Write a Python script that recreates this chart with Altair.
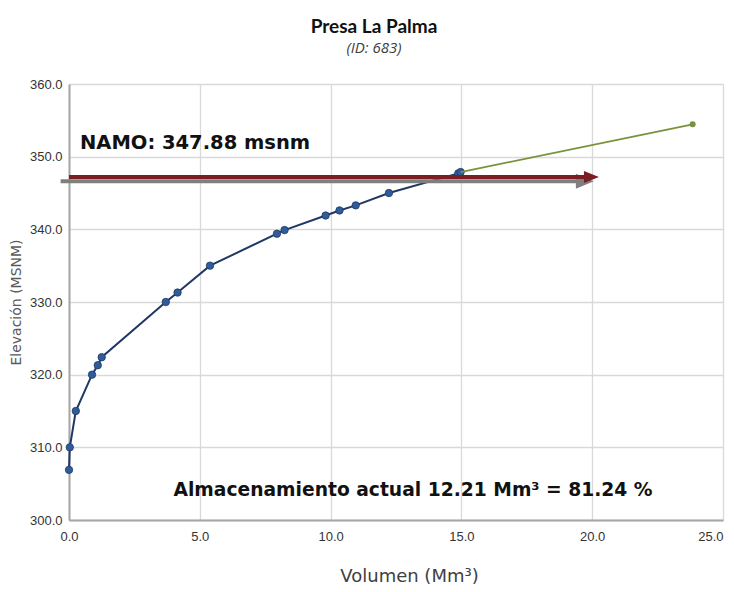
import altair as alt
import pandas as pd

# Curva elevación-volumen (puntos azules)
vol = [0.0, 0.03, 0.26, 0.88, 1.10, 1.25, 3.70, 4.15, 5.39, 7.95, 8.24, 9.81, 10.34, 10.96, 12.23, 14.88, 14.97]
elev = [306.9, 310.0, 315.0, 320.0, 321.3, 322.4, 330.0, 331.3, 335.0, 339.4, 339.9, 341.9, 342.6, 343.3, 345.0, 347.7, 347.88]

# Extensión (verde)
ext_vol = [14.97, 23.84]
ext_elev = [347.88, 354.45]

# Flechas
gray_x = [-0.32, 19.45]
gray_y = [346.6, 346.6]
gray_head_x = [19.72]
gray_head_y = [346.62]
red_x = [0.0, 19.75]
red_y = [347.2, 347.2]
red_head_x = [19.97]
red_head_y = [347.2]

# Textos
namo_text = ["NAMO: 347.88 msnm"]
namo_x = [0.42]
namo_y = [351.05]
alm_text = ["Almacenamiento actual 12.21 Mm³ = 81.24 %"]
alm_x = [13.15]
alm_y = [303.3]

x_ticks = [0, 5, 10, 15, 20, 25]
y_ticks = [300, 310, 320, 330, 340, 350, 360]

xs = alt.Scale(domain=[0, 25], nice=False, zero=False)
ys = alt.Scale(domain=[300, 360], nice=False, zero=False)

X = alt.X("x:Q", scale=xs, axis=alt.Axis(
    values=x_ticks, format=".1f", title="Volumen (Mm³)", grid=True, labelFlush=False,
    labelAlign={"condition": {"test": "datum.value >= 25", "value": "right"}, "value": "center"},
    ticks=False, labelPadding=10, titlePadding=24, titleX=340, titleAlign="center",
    titleFont="DejaVu Sans", titleFontSize=18, titleFontWeight="normal", titleColor="#404040",
    labelFont="Liberation Sans", labelFontSize=13, labelColor="#333333",
    domainColor="#A6A6A6", domainWidth=2, gridColor="#D9D9D9", gridWidth=1.3))
Y = alt.Y("y:Q", scale=ys, axis=alt.Axis(
    values=y_ticks, format=".1f", title="Elevación (MSNM)", grid=True, labelFlush=False,
    ticks=False, labelPadding=7, titlePadding=6,
    titleFont="DejaVu Sans", titleFontSize=14, titleFontWeight="normal", titleColor="#595959",
    labelFont="Liberation Sans", labelFontSize=13, labelColor="#333333",
    domainColor="#A6A6A6", domainWidth=2, gridColor="#D9D9D9", gridWidth=1.3))

curve = pd.DataFrame({"x": vol, "y": elev})
ext = pd.DataFrame({"x": ext_vol, "y": ext_elev})
ext_end = ext.iloc[[-1]]

line = alt.Chart(curve).mark_line(color="#1F3864", strokeWidth=2).encode(x=X, y=Y)
pts = alt.Chart(curve).mark_point(filled=True, size=55, fill="#2F5C9B", stroke="#1F3864",
                                  strokeWidth=0.8, opacity=1).encode(x=X, y=Y)
ext_line = alt.Chart(ext).mark_line(color="#77933C", strokeWidth=1.8).encode(x=X, y=Y)
ext_pt = alt.Chart(ext_end).mark_circle(color="#77933C", size=36, opacity=1).encode(x=X, y=Y)

gray_line = alt.Chart(pd.DataFrame({"x": gray_x, "y": gray_y})).mark_line(
    color="#7F7F7F", strokeWidth=4, strokeCap="butt").encode(x=X, y=Y)
gray_head = alt.Chart(pd.DataFrame({"x": gray_head_x, "y": gray_head_y})).mark_point(
    shape="M-1,-0.83L1,0L-1,0.83Z", filled=True, size=324, color="#7F7F7F", opacity=1).encode(x=X, y=Y)
red_line = alt.Chart(pd.DataFrame({"x": red_x, "y": red_y})).mark_line(
    color="#7B1E22", strokeWidth=4, strokeCap="butt").encode(x=X, y=Y)
red_head = alt.Chart(pd.DataFrame({"x": red_head_x, "y": red_head_y})).mark_point(
    shape="M-1,-0.8L1,0L-1,0.8Z", filled=True, size=225, color="#7B1E22", opacity=1).encode(x=X, y=Y)

namo = alt.Chart(pd.DataFrame({"x": namo_x, "y": namo_y, "t": namo_text})).mark_text(
    align="left", baseline="alphabetic", font="DejaVu Sans", fontSize=19.5, fontWeight="bold",
    color="#111111").encode(x=X, y=Y, text="t:N")
alm = alt.Chart(pd.DataFrame({"x": alm_x, "y": alm_y, "t": alm_text})).mark_text(
    align="center", baseline="alphabetic", font="DejaVu Sans", fontSize=18.7, fontWeight="bold",
    color="#111111").encode(x=X, y=Y, text="t:N")

chart = alt.layer(line, pts, ext_line, ext_pt, gray_line, gray_head, red_line, red_head, namo, alm).properties(
    width=654, height=436,
    title=alt.TitleParams(
        text="Presa La Palma", subtitle="(ID: 683)",
        font="Lato", fontSize=19, fontWeight="bold", color="#111111",
        subtitleFont="Open Sans", subtitleFontSize=15, subtitleFontStyle="italic", subtitleColor="#404040",
        subtitlePadding=4, anchor="middle", dx=-22, offset=22),
    autosize=alt.AutoSizeParams(type="none"),
    padding={"left": 61, "top": 76, "right": 3, "bottom": 70},
).configure_view(stroke="#D0D0D0", strokeWidth=1.3).configure(background="white")

chart.save("out.html", embed_options={"renderer": "svg", "actions": False})
